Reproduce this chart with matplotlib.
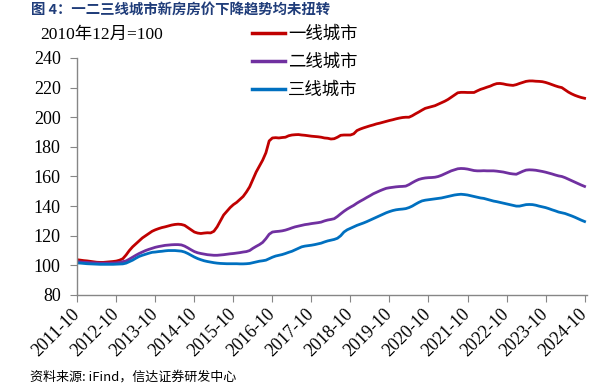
import numpy as np
import matplotlib.pyplot as plt

plt.rcParams['font.family'] = ['Liberation Serif', 'Noto Sans CJK SC', 'DejaVu Sans']

# Monthly index, 2011-10 .. 2024-10 (2010-12 = 100)
tier1 = [103.8, 103.5, 103.2, 103.0, 102.7, 102.4, 102.1, 102.0, 102.0, 102.2, 102.4, 102.6,
         102.9, 103.5, 104.5, 107.0, 110.0, 112.5, 114.5, 116.5, 118.5, 120.0, 121.5, 123.0,
         124.0, 124.8, 125.5, 126.0, 126.6, 127.2, 127.6, 127.8, 127.6, 127.0, 125.5, 124.0,
         122.5, 121.8, 121.5, 121.8, 122.0, 121.9, 123.0, 126.0, 130.0, 134.0, 136.5, 139.0,
         141.0, 142.5, 144.5, 146.5, 149.5, 153.0, 158.0, 163.0, 167.0, 171.0, 176.0, 184.0,
         186.0, 186.2, 186.0, 186.3, 186.5, 187.5, 188.0, 188.2, 188.3, 188.0, 187.8, 187.5,
         187.2, 187.0, 186.8, 186.5, 186.0, 185.8, 185.3, 185.5, 186.5, 187.8, 188.0, 188.0,
         188.0, 188.8, 191.0, 192.0, 192.8, 193.5, 194.2, 194.8, 195.5, 196.0, 196.6, 197.2,
         197.8, 198.3, 198.9, 199.4, 199.8, 200.0, 200.0, 201.0, 202.3, 203.5, 204.8, 206.0,
         206.6, 207.2, 207.8, 208.8, 209.8, 210.8, 212.0, 213.5, 215.0, 216.5, 216.8, 216.8,
         216.7, 216.7, 216.7, 217.8, 218.8, 219.5, 220.3, 221.0, 222.0, 222.7, 222.8, 222.5,
         222.0, 221.7, 221.5, 222.0, 222.8, 223.5, 224.2, 224.5, 224.5, 224.3, 224.2, 224.0,
         223.5, 222.8, 222.0, 221.2, 220.5, 220.0, 218.5, 217.0, 215.8, 214.8, 214.0, 213.3,
         212.8]

tier2 = [102.5, 102.3, 102.1, 102.0, 101.8, 101.7, 101.6, 101.5, 101.5, 101.5, 101.5, 101.6,
         101.7, 102.0, 102.5, 103.0, 104.2, 105.5, 106.8, 108.0, 109.0, 110.0, 110.8, 111.5,
         112.2, 112.7, 113.1, 113.5, 113.7, 113.9, 114.0, 114.0, 113.8, 113.0, 111.8, 110.5,
         109.3, 108.5, 108.0, 107.6, 107.2, 107.0, 106.8, 106.8, 107.0, 107.2, 107.5, 107.8,
         108.0, 108.3, 108.6, 109.0, 109.3, 110.0, 111.5, 112.8, 114.0, 115.5, 118.0, 121.0,
         122.5, 122.8, 123.0, 123.3, 123.8, 124.5, 125.3, 126.0, 126.5, 127.0, 127.5, 127.8,
         128.2, 128.5, 128.8, 129.2, 130.0, 130.6, 131.0, 131.5, 133.0, 134.8, 136.5, 138.0,
         139.3, 140.5, 142.0, 143.3, 144.5, 145.8, 147.0, 148.3, 149.3, 150.3, 151.2, 152.0,
         152.4, 152.7, 153.0, 153.2, 153.3, 153.5, 154.5, 155.8, 157.0, 158.0, 158.6, 159.0,
         159.2, 159.3, 159.5, 160.0, 160.8, 161.8, 162.8, 163.8, 164.5, 165.2, 165.4, 165.3,
         165.0, 164.5, 164.0, 163.8, 163.8, 163.9, 163.8, 163.8, 163.8, 163.6, 163.3, 163.0,
         162.5, 162.0, 161.7, 161.5, 162.5, 163.5, 164.3, 164.5, 164.4, 164.2, 163.8, 163.4,
         162.9, 162.3, 161.7, 161.0, 160.4, 160.0, 159.2, 158.2, 157.2, 156.2, 155.2, 154.2,
         153.3]

tier3 = [101.6, 101.5, 101.3, 101.1, 101.0, 100.9, 100.8, 100.7, 100.7, 100.7, 100.7, 100.7,
         100.8, 100.9, 101.0, 101.5, 102.5, 103.5, 104.8, 106.0, 106.8, 107.5, 108.2, 108.8,
         109.0, 109.3, 109.5, 109.8, 110.0, 110.0, 110.0, 109.8, 109.6, 109.0, 108.0, 106.8,
         105.6, 104.6, 103.8, 103.1, 102.6, 102.2, 101.8, 101.5, 101.3, 101.2, 101.1, 101.1,
         101.1, 101.1, 101.0, 101.0, 101.1, 101.3, 101.8, 102.3, 102.8, 103.1, 103.5, 104.5,
         105.5, 106.3, 106.8, 107.3, 108.0, 108.8, 109.5, 110.5, 111.5, 112.5, 113.0, 113.3,
         113.6, 114.0, 114.5, 115.0, 115.8, 116.5, 117.0, 117.5, 118.3, 120.0, 122.5, 124.0,
         125.0, 126.0, 127.0, 127.8, 128.6, 129.5, 130.5, 131.5, 132.5, 133.5, 134.5, 135.5,
         136.3, 137.0, 137.5, 137.8, 138.0, 138.3, 139.0, 140.0, 141.3, 142.5, 143.5, 144.0,
         144.3, 144.6, 144.9, 145.2, 145.5, 146.0, 146.5, 147.0, 147.5, 147.8, 148.0, 147.8,
         147.5, 147.0, 146.5, 146.0, 145.5, 145.2, 144.6, 144.0, 143.4, 143.0, 142.5, 142.0,
         141.5, 141.0, 140.5, 140.0, 140.0, 140.5, 141.0, 141.1, 141.0, 140.6, 140.0, 139.5,
         139.0, 138.3, 137.5, 136.8, 136.0, 135.5, 135.0, 134.2, 133.4, 132.5, 131.5, 130.5,
         129.6]

tick_labels = ['%d-10' % y for y in range(2011, 2025)]
series_names = ['一线城市', '二线城市', '三线城市']
colors = ['#C00000', '#7030A0', '#0070C0']

fig = plt.figure(figsize=(6.15, 3.86), dpi=100)
ax = fig.add_axes([0.1257, 0.2358, 0.828, 0.614])

x = np.arange(len(tier1))
for vals, name, c in zip([tier1, tier2, tier3], series_names, colors):
    ax.plot(x, vals, color=c, lw=2.0, label=name)

ax.set_xlim(0, 156.6)
ax.set_ylim(80, 240)
ax.set_yticks(np.arange(80, 241, 20))
ax.set_xticks(np.arange(0, 157, 12))
ax.set_xticklabels(tick_labels, rotation=45, ha='right', va='center',
                   rotation_mode='anchor')

for s in ['top', 'right']:
    ax.spines[s].set_visible(False)
for s in ['left', 'bottom']:
    ax.spines[s].set_color('#868686')
    ax.spines[s].set_linewidth(1.0)
ax.tick_params(axis='both', direction='out', length=5, color='#868686',
               labelsize=13, labelcolor='black')
ax.tick_params(axis='x', pad=7)
ax.tick_params(axis='y', pad=7)

leg = fig.legend(*ax.get_legend_handles_labels(), loc='upper left',
                 bbox_to_anchor=(0.385, 0.975), frameon=False,
                 handlelength=1.9, handletextpad=0.15, labelspacing=0.56,
                 prop={'family': ['Noto Sans CJK SC'], 'size': 12.5})
for line in leg.get_lines():
    line.set_linewidth(2.5)

fig.text(0.05, 0.973, '图 4：一二三线城市新房房价下降趋势均未扭转', color='#203D7A',
         fontsize=10.4, fontweight='bold', family=['Noto Sans CJK SC'], va='center')
fig.text(0.065, 0.909, '2010年12月=100', fontsize=12.5, va='center')
fig.text(0.049, 0.023, '资料来源: iFind，信达证券研发中心', fontsize=9.4, style='italic',
         family=['Noto Sans CJK SC', 'DejaVu Sans'], va='center')

fig.savefig('out.png', dpi=100)
